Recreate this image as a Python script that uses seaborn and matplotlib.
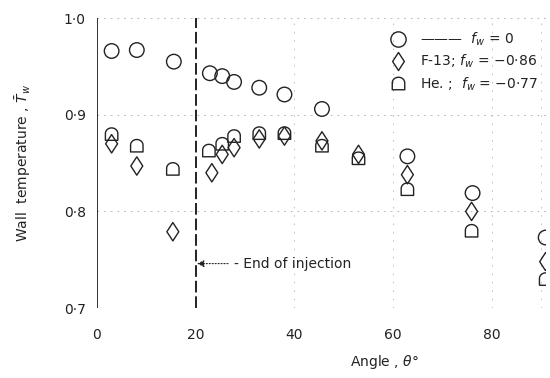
import numpy as np
import pandas as pd
import seaborn as sns
import matplotlib.pyplot as plt
from matplotlib.path import Path
from matplotlib.lines import Line2D

# f_w = 0 (no injection)
angle_0 = [3.0, 8.1, 15.6, 22.9, 25.4, 27.8, 32.9, 38.0, 45.6, 62.9, 76.1, 90.9]
temp_0 = [0.966, 0.967, 0.955, 0.943, 0.940, 0.934, 0.928, 0.921, 0.906, 0.857, 0.819, 0.773]

# F-13, f_w = -0.86
angle_f13 = [3.0, 8.1, 15.4, 23.3, 25.4, 27.8, 32.9, 38.0, 45.6, 53.0, 62.9, 75.9, 90.9]
temp_f13 = [0.870, 0.847, 0.779, 0.840, 0.859, 0.866, 0.875, 0.878, 0.873, 0.859, 0.838, 0.800, 0.748]

# He, f_w = -0.77
angle_he = [3.0, 8.1, 15.4, 22.7, 25.4, 27.8, 32.9, 38.0, 45.6, 53.0, 62.9, 75.9, 90.9]
temp_he = [0.880, 0.868, 0.844, 0.863, 0.870, 0.878, 0.881, 0.881, 0.868, 0.855, 0.823, 0.780, 0.730]

injection_end = 20

# bell shaped marker (flat bottom, round top) used for helium
t = np.linspace(0, np.pi, 20)
verts = [(-1, -1), (1, -1), (1, 0.1)] + [(np.cos(a), 0.1 + 0.9 * np.sin(a)) for a in t] + [(-1, -1)]
bell = Path(verts, [Path.MOVETO] + [Path.LINETO] * (len(verts) - 2) + [Path.CLOSEPOLY])
# tall narrow diamond
diamond = Path([(0, -1), (0.65, 0), (0, 1), (-0.65, 0), (0, -1)],
               [Path.MOVETO, Path.LINETO, Path.LINETO, Path.LINETO, Path.CLOSEPOLY])

sns.set_style("white")
plt.rcParams['font.family'] = ['DejaVu Sans']
ink = "#222222"

fig = plt.figure(figsize=(5.5, 3.78), dpi=100)
ax = fig.add_axes([0.176, 0.185, 0.817, 0.767])

style = dict(facecolor="none", edgecolor=ink, linewidth=1.0, ax=ax, legend=False)
sns.scatterplot(x=angle_0, y=temp_0, marker="o", s=110, **style)
sns.scatterplot(x=angle_f13, y=temp_f13, marker=diamond, s=175, **style)
sns.scatterplot(x=angle_he, y=temp_he, marker=bell, s=80, **style)

ax.axvline(0, color=ink, lw=1.3)
ax.axvline(injection_end, color=ink, lw=1.4, ls=(0, (6, 2)))

# faint dotted grid like the scanned chart paper
for yv in [0.7, 0.8, 0.9, 1.0]:
    ax.axhline(yv, color="#aaaaaa", lw=0.6, ls=(0, (2, 6)), zorder=0)
for xv in [40, 60, 80, 90]:
    ax.axvline(xv, color="#bbbbbb", lw=0.6, ls=(0, (2, 8)), zorder=0)

ax.set_xlim(0, 91)
ax.set_ylim(0.7, 1.0)
ax.set_xticks([0, 20, 40, 60, 80])
ax.set_yticks([0.7, 0.8, 0.9, 1.0])
ax.set_yticklabels(["0·7", "0·8", "0·9", "1·0"])
ax.tick_params(length=0, labelsize=10, colors=ink, pad=14)
ax.tick_params(axis="y", pad=8)
for sp in ax.spines.values():
    sp.set_visible(False)

ax.set_xlabel(r"Angle , $\theta$°", fontsize=10, color=ink)
ax.xaxis.set_label_coords(0.64, -0.155)
ax.set_ylabel(r"Wall  temperature , $\bar{T}_w$", fontsize=10, color=ink, labelpad=22)

ax.annotate("- End of injection", xy=(injection_end + 0.3, 0.746), xytext=(27.8, 0.746),
            va="center", fontsize=10, color=ink,
            arrowprops=dict(arrowstyle="-|>", color=ink, lw=0.8, ls=":",
                            shrinkA=2, shrinkB=0))

handles = [
    Line2D([], [], marker="o", ls="none", mfc="none", mec=ink, ms=11),
    Line2D([], [], marker=diamond, ls="none", mfc="none", mec=ink, ms=13),
    Line2D([], [], marker=bell, ls="none", mfc="none", mec=ink, ms=9),
]
labels = [r"———  $f_w$ = 0",
          r"F-13; $f_w$ = −0·86",
          r"He. ;  $f_w$ = −0·77"]
ax.legend(handles, labels, loc="upper right", bbox_to_anchor=(1.01, 1.0),
          frameon=False, fontsize=10, handletextpad=0.6, labelspacing=0.35,
          labelcolor=ink)

fig.savefig("out.png", dpi=100)
